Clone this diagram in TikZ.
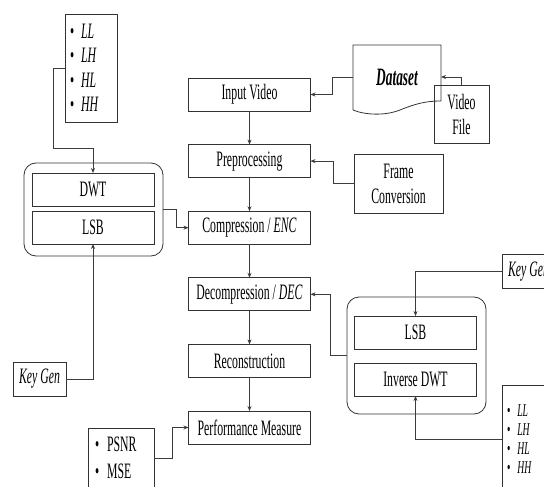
\documentclass[tikz,border=0pt]{standalone}
\usepackage{fontspec}
\setmainfont{Liberation Serif}[FakeStretch=0.535]
\usetikzlibrary{positioning,arrows.meta}
\tikzset{pxgrid/.style={x=1pt,y=-1pt,every node/.style={inner sep=0pt,outer sep=0pt,anchor=center,align=center}}}
\definecolor{flline}{HTML}{333333}
\definecolor{flarrow}{HTML}{3C3C3C}
\newcommand\boxfont{\fontsize{22}{25}\selectfont}
\tikzset{
  stage/.style={draw=flline,line width=0.8pt,minimum width=122pt,minimum height=33pt,font=\boxfont},
  group/.style={draw=flline,line width=0.8pt,rounded corners=12pt,minimum width=139pt},
  note/.style={draw=flline,line width=0.8pt,font=\boxfont},
  bands/.style={draw=flline,line width=0.8pt,anchor=north west,align=left,inner xsep=5pt,text width=42pt,minimum width=52pt,minimum height=108pt},
  keybox/.style={draw=flline,line width=0.8pt,minimum width=53pt,minimum height=34pt,font=\boxfont\itshape},
  link/.style={flarrow,line width=0.7pt,-{Stealth[length=5pt,width=4pt]}},
}

\begin{document}
\begin{tikzpicture}[pxgrid]
  \useasboundingbox (0,0) rectangle (544,487);
  \clip (0,0) rectangle (544,487);
  \node[stage] (input) at (249.5,94.5) {Input Video};
  \node[stage,below=33.6pt of input] (prep) {Preprocessing};
  \node[stage,below=33.6pt of prep] (comp) {Compression / \textit{ENC}};
  \node[stage,below=33.6pt of comp] (decomp) {Decompression / \textit{DEC}};
  \node[stage,below=33.6pt of decomp] (recon) {Reconstruction};
  \node[stage,below=33.6pt of recon] (perf) {Performance Measure};
  \foreach \a/\b in {input/prep,prep/comp,comp/decomp,decomp/recon,recon/perf} \draw[link] (\a) -- (\b);

  \node[group,minimum height=93pt] (enc) at (93.5,209.5) {};
  \node[stage] (dwt) at (93,189.5) {DWT};
  \node[stage] (lsbenc) at (93,227.5) {LSB};
  \node[group,minimum height=117pt] (dec) at (416.5,355.5) {};
  \node[stage] (lsbdec) at (415.5,332.5) {LSB};
  \node[stage] (idwt) at (415.5,379.5) {Inverse DWT};

  \node[bands,font=\fontsize{22}{24.5}\selectfont] (bandsenc) at (65,14)
    {\textbullet\hspace{7pt}\textit{LL}\\ \textbullet\hspace{7pt}\textit{LH}\\ \textbullet\hspace{7pt}\textit{HL}\\ \textbullet\hspace{7pt}\textit{HH}};
  \node[bands,font=\fontsize{18}{19}\selectfont] (bandsdec) at (502,385)
    {\textbullet\hspace{7pt}\textit{LL}\\ \textbullet\hspace{7pt}\textit{LH}\\ \textbullet\hspace{7pt}\textit{HL}\\ \textbullet\hspace{7pt}\textit{HH}};
  \node[bands,font=\fontsize{22}{27}\selectfont,inner xsep=7pt,text width=52pt,minimum width=66pt,minimum height=60pt] (metrics) at (88,428)
    {\textbullet\hspace{8pt}PSNR\\ \textbullet\hspace{8pt}MSE};
  \node[keybox] (keyenc) at (39.5,379) {Key Gen};
  \node[keybox,anchor=west] (keydec) at (502,271.5) {Key Gen};
  \node[note,minimum width=89pt,minimum height=59pt] (frame) at (398.5,183.5) {Frame\\Conversion};

  \draw[flline,line width=0.8pt] (353,110) -- (353,45) -- (441,45) -- (441,101)
    .. controls (425,101) and (415,104) .. (400,110) .. controls (385,116) and (365,115) .. (353,110);
  \node[minimum width=88pt,minimum height=20pt,font=\fontsize{25}{28}\selectfont\bfseries\itshape] (dataset) at (397,77) {Dataset};
  \node[note,minimum width=55pt,minimum height=58pt] (vfile) at (461.5,114) {Video\\File};

  \draw[link] (vfile.north) |- (dataset.east);
  \draw[link] (dataset.west) -- ++(-21,0) |- (input.east);
  \draw[link] (frame.west) -- ++(-21,0) |- (prep.east);
  \draw[link] (bandsenc.west) -- ++(-12,0) -- ++(0,80) -| (dwt.north);
  \draw[link] (keyenc.east) -| (lsbenc.south);
  \draw[link] (enc.east) -- ++(13,0) |- (comp.west);
  \draw[link] (dec.west) -- ++(-17,0) |- (decomp.east);
  \draw[link] (keydec.west) -| (lsbdec.north);
  \draw[link] (bandsdec.west) -| (idwt.south);
  \draw[link] (metrics.east) -- ++(18,0) |- (perf.west);
\end{tikzpicture}
\end{document}
